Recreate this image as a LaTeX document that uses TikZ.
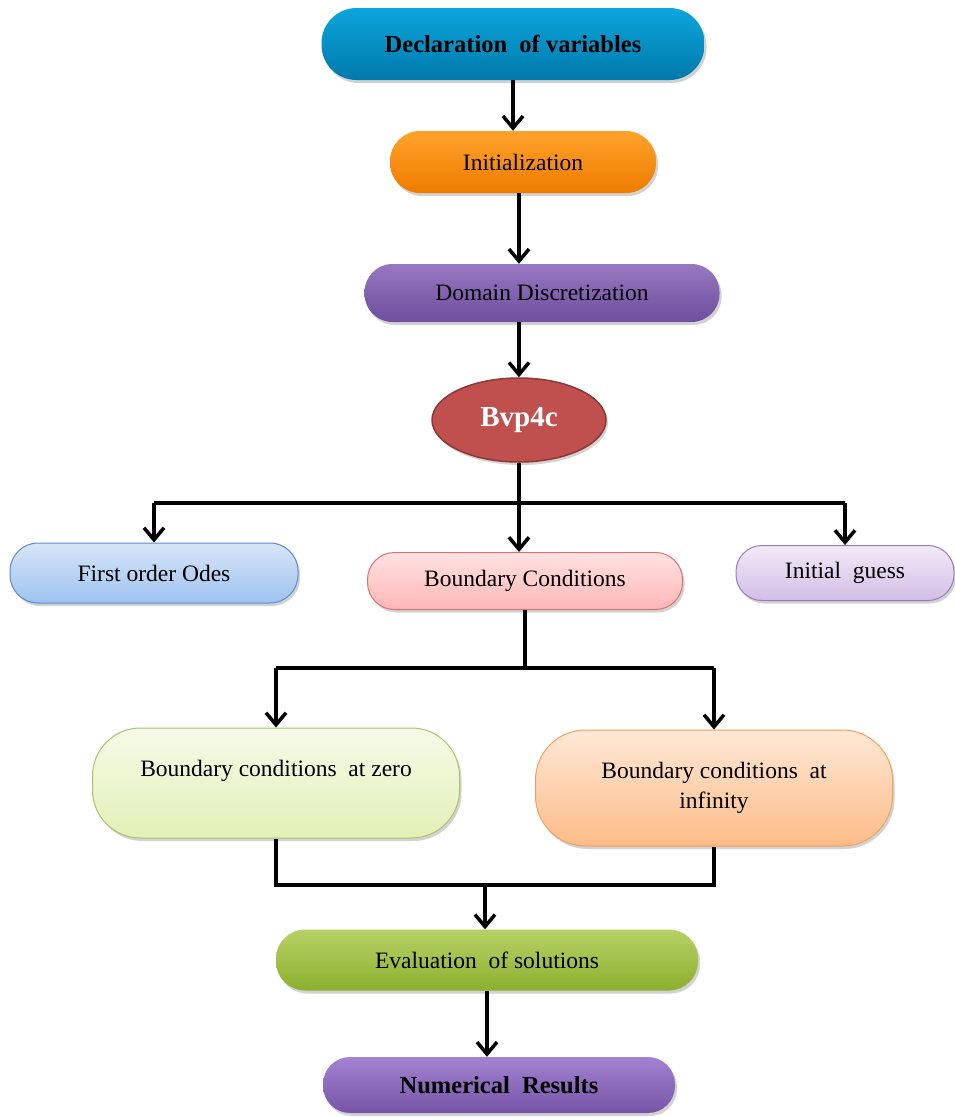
\documentclass[tikz,border=0pt]{standalone}
\usepackage{fontspec}
\setmainfont{Liberation Serif}
\usetikzlibrary{arrows.meta,shadows,shapes.geometric}
\definecolor{decT}{HTML}{0CA6DC}
\definecolor{decB}{HTML}{0079AB}
\definecolor{initT}{HTML}{FFA22A}
\definecolor{initB}{HTML}{EE7C00}
\definecolor{domT}{HTML}{9878C0}
\definecolor{domB}{HTML}{6E4E9E}
\definecolor{bvpF}{HTML}{C0504D}
\definecolor{bvpD}{HTML}{8C3836}
\definecolor{odeT}{HTML}{D8E6F8}
\definecolor{odeB}{HTML}{9DC2F0}
\definecolor{odeD}{HTML}{5B8CD0}
\definecolor{bcT}{HTML}{FFE2E2}
\definecolor{bcB}{HTML}{FFB6B6}
\definecolor{bcD}{HTML}{E07070}
\definecolor{igT}{HTML}{F2EAF8}
\definecolor{igB}{HTML}{D2BEE6}
\definecolor{igD}{HTML}{9A7BBE}
\definecolor{zT}{HTML}{F6FAE8}
\definecolor{zB}{HTML}{E2F0B6}
\definecolor{zD}{HTML}{A9C46C}
\definecolor{iT}{HTML}{FEE8D6}
\definecolor{iB}{HTML}{FDBC88}
\definecolor{iD}{HTML}{F5A060}
\definecolor{evT}{HTML}{B6D266}
\definecolor{evB}{HTML}{8DAE2E}
\definecolor{nrT}{HTML}{A482D2}
\definecolor{nrB}{HTML}{7654A6}
\begin{document}
\begin{tikzpicture}[x=1pt,y=-1pt,
  pill/.style={inner sep=0pt,align=center,text=black,
    font=\fontsize{23.5}{30}\selectfont,
    drop shadow={shadow xshift=2pt,shadow yshift=-3pt,opacity=0.35}},
  boldtxt/.style={font=\fontsize{24.5}{30}\selectfont\bfseries},
  conn/.style={line width=3.5pt},
  arr/.style={line width=3.5pt,-{Straight Barb[length=12pt,width=20pt]}}
]
\useasboundingbox (0,0) rectangle (955,1117);
\fill[white] (0,0) rectangle (955,1117);

\node[pill,boldtxt,top color=decT,bottom color=decB,minimum width=383pt,minimum height=72pt,rounded corners=35pt] (dec) at (513,44) {Declaration\ \ of variables};
\node[pill,top color=initT,bottom color=initB,minimum width=266pt,minimum height=62pt,rounded corners=30pt] (init) at (523,162) {Initialization};
\node[pill,top color=domT,bottom color=domB,minimum width=355pt,minimum height=58pt,rounded corners=28pt] (dom) at (542,293) {Domain Discretization};
\node[ellipse,draw=bvpD,line width=1.5pt,fill=bvpF,minimum width=174pt,minimum height=84pt,inner sep=0pt,text=white,font=\fontsize{29}{34}\selectfont\bfseries,drop shadow={shadow xshift=2pt,shadow yshift=-3pt,opacity=0.35}] (bvp) at (519,420) {Bvp4c};

\node[pill,draw=odeD,line width=1pt,top color=odeT,bottom color=odeB,minimum width=288pt,minimum height=60pt,rounded corners=28pt] (ode) at (154,573) {First order Odes};
\node[pill,draw=bcD,line width=1pt,top color=bcT,bottom color=bcB,minimum width=315pt,minimum height=57pt,rounded corners=27pt] (bc) at (525,581) {Boundary Conditions};
\node[pill,draw=igD,line width=1pt,top color=igT,bottom color=igB,minimum width=218pt,minimum height=55pt,rounded corners=26pt] (ig) at (845,573) {Initial\ \ guess};

\node[pill,draw=zD,line width=1pt,top color=zT,bottom color=zB,minimum width=367pt,minimum height=110pt,rounded corners=48pt] (zero) at (276,783) {Boundary conditions\ \ at zero\\ \mbox{}};
\node[pill,draw=iD,line width=1pt,top color=iT,bottom color=iB,minimum width=357pt,minimum height=116pt,rounded corners=50pt] (inf) at (714,788) {Boundary conditions\ \ at\\ infinity};

\node[pill,top color=evT,bottom color=evB,minimum width=422pt,minimum height=61pt,rounded corners=29pt] (ev) at (487,960) {Evaluation\ \ of solutions};
\node[pill,boldtxt,top color=nrT,bottom color=nrB,minimum width=352pt,minimum height=56pt,rounded corners=27pt] (nr) at (499,1085) {Numerical\ \ Results};

% connectors
\draw[arr] (dec.south) -- (dec.south |- init.north);
\draw[arr] (init.south -| bvp.north) -- (dom.north -| bvp.north);
\draw[arr] (dom.south -| bvp.north) -- (bvp.north);

\coordinate (j1) at (519,503);
\draw[conn] (bvp.south) -- (j1);
\draw[conn] (j1) -- (ode.north |- j1);
\draw[conn] (j1) -- (ig.north |- j1);
\draw[arr] (ode.north |- j1) -- (ode.north);
\draw[arr] (j1) -- (j1 |- bc.north);
\draw[arr] (ig.north |- j1) -- (ig.north);

\coordinate (j2) at (525,668);
\draw[conn] (bc.south) -- (j2);
\draw[conn] (zero.north |- j2) -- (inf.north |- j2);
\draw[arr] (zero.north |- j2) -- (zero.north);
\draw[arr] (inf.north |- j2) -- (inf.north);

\coordinate (j3) at (485,885);
\draw[conn] (zero.south) -- (zero.south |- j3) -- (inf.south |- j3) -- (inf.south);
\draw[arr] (j3) -- (j3 |- ev.north);

\draw[arr] (ev.south) -- (ev.south |- nr.north);
\end{tikzpicture}
\end{document}
